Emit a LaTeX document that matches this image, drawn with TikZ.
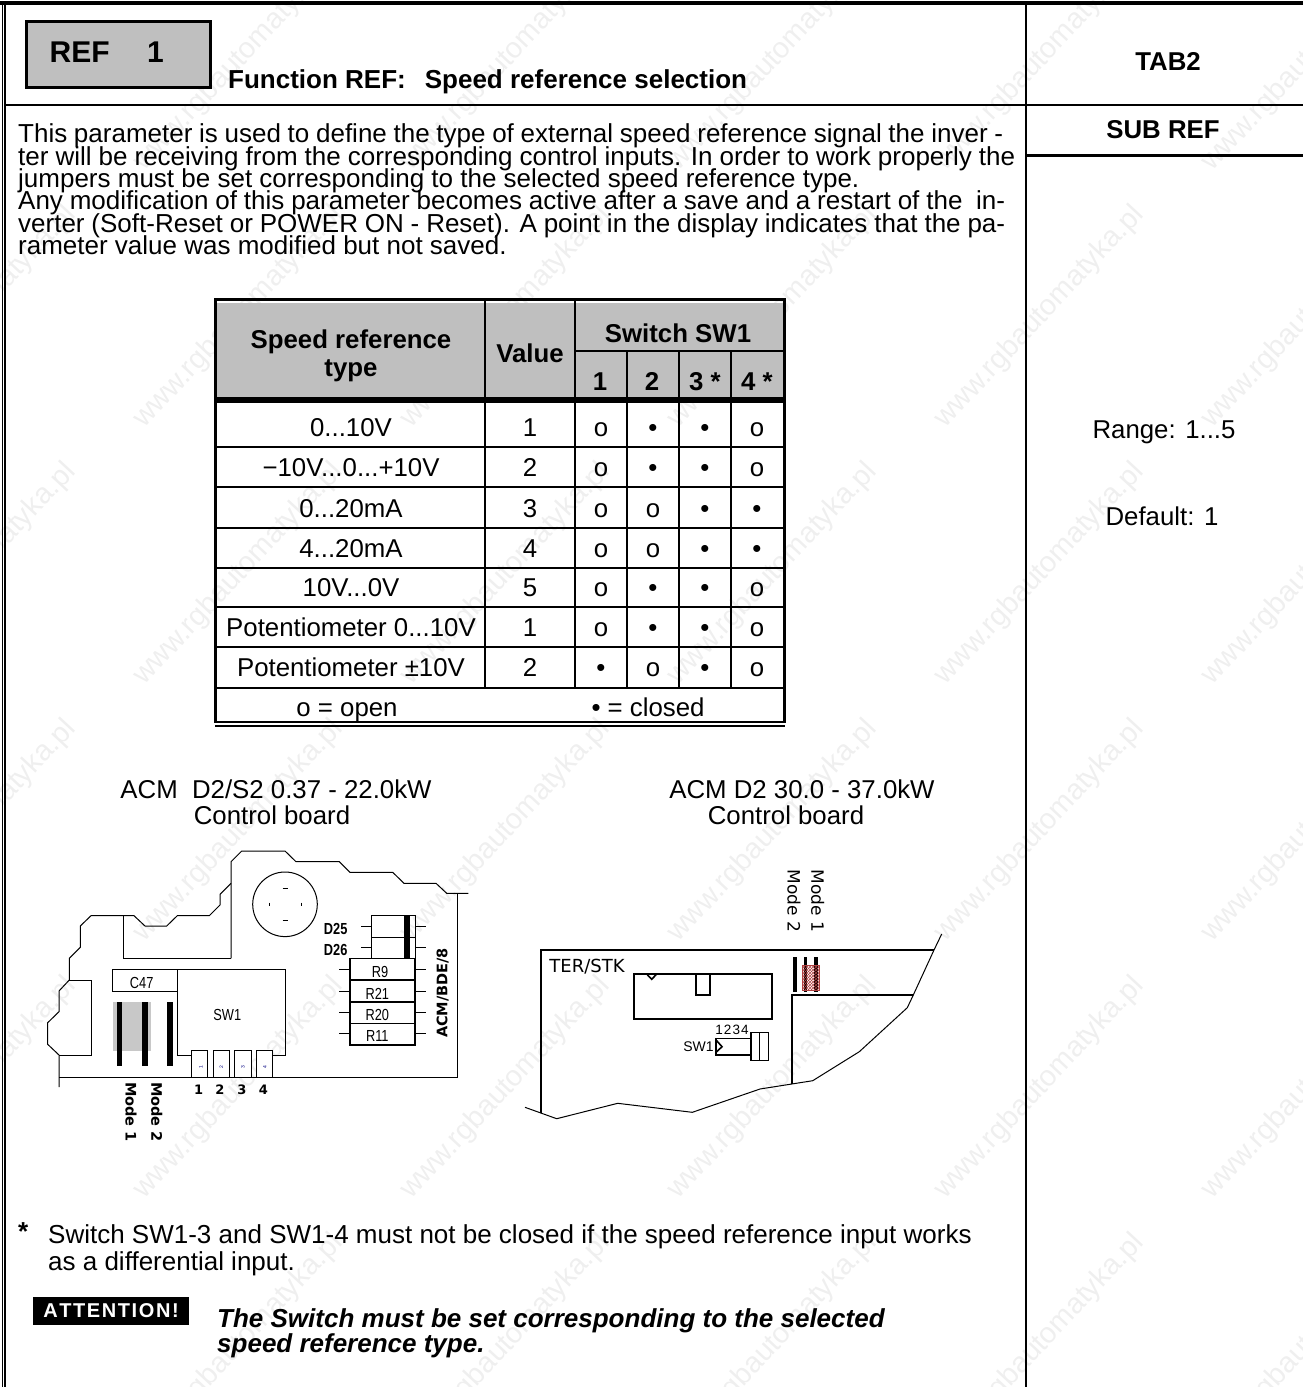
\documentclass[tikz,border=0pt]{standalone}
\usepackage{fontspec}
\usetikzlibrary{patterns}
\setmainfont{Liberation Sans}
\newfontfamily\dejafont{DejaVu Sans}

\definecolor{panelgray}{HTML}{BFBFBF}
\definecolor{jumpergray}{HTML}{C8C8C8}
\definecolor{wmarkgray}{HTML}{EFEFEF}
\definecolor{hatchred}{HTML}{B04040}

\tikzset{
    bodytext/.style={inner sep=0pt, anchor=base west, font=\fontsize{26}{26}\selectfont},
    midtext/.style={inner sep=0pt, anchor=base, font=\fontsize{25.8}{25.8}\selectfont},
    headtext/.style={inner sep=0pt, anchor=base, font=\fontsize{25.8}{25.8}\selectfont\bfseries},
    notetext/.style={bodytext, font=\fontsize{26}{26}\selectfont\bfseries\itshape},
    wmark/.style={inner sep=0pt, anchor=west, rotate=47, text=wmarkgray, font=\fontsize{29}{29}\selectfont},
    boardtext/.style={inner sep=0pt, transform shape, xscale=0.8, font=\fontsize{16}{16}\selectfont},
    slottext/.style={inner sep=0pt, rotate=90, font=\fontsize{5}{5}\selectfont, text=blue!50!black},
    numtext/.style={inner sep=0pt, font=\fontsize{13}{13}\selectfont\dejafont\bfseries},
    modetext/.style={inner sep=0pt, rotate=-90, font=\fontsize{14.5}{14.5}\selectfont\dejafont\bfseries},
    modetextb/.style={inner sep=0pt, rotate=-90, font=\fontsize{17}{17}\selectfont\dejafont},
    thinline/.style={line width=1pt},
    midline/.style={line width=1.6pt},
    frameline/.style={line width=2.6pt}
}

\begin{document}
\begin{tikzpicture}[x=1pt, y=-1pt]

    \useasboundingbox (0, 0) rectangle (1303, 1387);

    % watermark
    \node[wmark] (mark01) at (139, 167) {www.rgbautomatyka.pl};
    \node[wmark] (mark02) at (406, 167) {www.rgbautomatyka.pl};
    \node[wmark] (mark03) at (673, 167) {www.rgbautomatyka.pl};
    \node[wmark] (mark04) at (940, 167) {www.rgbautomatyka.pl};
    \node[wmark] (mark05) at (1207, 167) {www.rgbautomatyka.pl};
    \node[wmark] (mark06) at (-128, 424) {www.rgbautomatyka.pl};
    \node[wmark] (mark07) at (139, 424) {www.rgbautomatyka.pl};
    \node[wmark] (mark08) at (406, 424) {www.rgbautomatyka.pl};
    \node[wmark] (mark09) at (673, 424) {www.rgbautomatyka.pl};
    \node[wmark] (mark10) at (940, 424) {www.rgbautomatyka.pl};
    \node[wmark] (mark11) at (1207, 424) {www.rgbautomatyka.pl};
    \node[wmark] (mark12) at (-128, 681) {www.rgbautomatyka.pl};
    \node[wmark] (mark13) at (139, 681) {www.rgbautomatyka.pl};
    \node[wmark] (mark14) at (406, 681) {www.rgbautomatyka.pl};
    \node[wmark] (mark15) at (673, 681) {www.rgbautomatyka.pl};
    \node[wmark] (mark16) at (940, 681) {www.rgbautomatyka.pl};
    \node[wmark] (mark17) at (1207, 681) {www.rgbautomatyka.pl};
    \node[wmark] (mark18) at (-128, 938) {www.rgbautomatyka.pl};
    \node[wmark] (mark19) at (139, 938) {www.rgbautomatyka.pl};
    \node[wmark] (mark20) at (406, 938) {www.rgbautomatyka.pl};
    \node[wmark] (mark21) at (673, 938) {www.rgbautomatyka.pl};
    \node[wmark] (mark22) at (940, 938) {www.rgbautomatyka.pl};
    \node[wmark] (mark23) at (1207, 938) {www.rgbautomatyka.pl};
    \node[wmark] (mark24) at (-128, 1195) {www.rgbautomatyka.pl};
    \node[wmark] (mark25) at (139, 1195) {www.rgbautomatyka.pl};
    \node[wmark] (mark26) at (406, 1195) {www.rgbautomatyka.pl};
    \node[wmark] (mark27) at (673, 1195) {www.rgbautomatyka.pl};
    \node[wmark] (mark28) at (940, 1195) {www.rgbautomatyka.pl};
    \node[wmark] (mark29) at (1207, 1195) {www.rgbautomatyka.pl};
    \node[wmark] (mark30) at (139, 1452) {www.rgbautomatyka.pl};
    \node[wmark] (mark31) at (406, 1452) {www.rgbautomatyka.pl};
    \node[wmark] (mark32) at (673, 1452) {www.rgbautomatyka.pl};
    \node[wmark] (mark33) at (940, 1452) {www.rgbautomatyka.pl};
    \node[wmark] (mark34) at (1207, 1452) {www.rgbautomatyka.pl};

    % page frame
    \draw[line width=3.5pt] (0, 2.8) -- (1303, 2.8);
    \draw[line width=1pt] (2.2, 1) -- (2.2, 1387);
    \draw[line width=2pt] (5.3, 1) -- (5.3, 1387);
    \draw[frameline] (5, 105) -- (1303, 105);
    \draw[frameline] (1026, 2) -- (1026, 1387);
    \draw[frameline] (1026, 155.5) -- (1303, 155.5);

    % title row
    \draw[line width=3pt, fill=panelgray] (26, 21.5) rectangle (210.5, 87);
    \node[inner sep=0pt, anchor=base west, font=\fontsize{30}{30}\selectfont\bfseries] (title) at (49.5, 62) {REF};
    \node[inner sep=0pt, anchor=base west, font=\fontsize{30}{30}\selectfont\bfseries] (titleno) at (147, 62) {1};
    \node[bodytext, font=\fontsize{26}{26}\selectfont\bfseries] (function) at (228, 88) {Function REF:\hspace{19pt}Speed reference selection};
    \node[headtext] (tab) at (1168, 70) {TAB2};
    \node[headtext] (sub) at (1163, 138) {SUB REF};
    \node[midtext] (range) at (1164, 438) {Range: 1...5};
    \node[midtext] (default) at (1162, 525) {Default: 1};

    % description
    \node[bodytext] (line1) at (18, 142) {\makebox[985pt][s]{This parameter is used to define the type of external speed reference signal the inver -}};
    \node[bodytext] (line2) at (18, 165) {\makebox[997pt][s]{ter will be receiving from the corresponding control inputs. In order to work properly the}};
    \node[bodytext] (line3) at (18, 187) {jumpers must be set corresponding to the selected speed reference type.};
    \node[bodytext] (line4) at (18, 209) {\makebox[987pt][s]{Any modification of this parameter becomes active after a save and a restart of the\ \ in-}};
    \node[bodytext] (line5) at (18, 232) {\makebox[987pt][s]{verter (Soft-Reset or POWER ON - Reset). A point in the display indicates that the pa-}};
    \node[bodytext] (line6) at (18, 254) {rameter value was modified but not saved.};

    % table
    \fill[panelgray] (217, 303) rectangle (783, 397);
    \draw[frameline] (215.5, 299.5) rectangle (784.5, 722);
    \draw[line width=1.5pt] (215, 726) -- (785, 726);
    \draw[line width=6pt] (217, 400) -- (783, 400);
    \draw[midline] (485, 300) -- (485, 688);
    \draw[midline] (575, 300) -- (575, 688);
    \draw[midline] (575, 351) -- (784, 351);
    \draw[midline] (627, 351) -- (627, 688);
    \draw[midline] (679, 351) -- (679, 688);
    \draw[midline] (731, 351) -- (731, 688);
    \draw[midline] (216, 447) -- (784, 447);
    \draw[midline] (216, 487) -- (784, 487);
    \draw[midline] (216, 528) -- (784, 528);
    \draw[midline] (216, 568) -- (784, 568);
    \draw[midline] (216, 607) -- (784, 607);
    \draw[midline] (216, 647) -- (784, 647);
    \draw[midline] (216, 688) -- (784, 688);

    \node[headtext] (typeA) at (351, 348) {Speed reference};
    \node[headtext] (typeB) at (351, 376) {type};
    \node[headtext] (value) at (530, 362) {Value};
    \node[headtext] (switch) at (678, 342) {Switch SW1};
    \node[headtext] (sw1) at (600, 390) {1};
    \node[headtext] (sw2) at (652, 390) {2};
    \node[headtext] (sw3) at (705, 390) {3 *};
    \node[headtext] (sw4) at (757, 390) {4 *};

    \node[midtext] (type1) at (351, 436) {0...10V};
    \node[midtext] (type2) at (351, 476) {−10V...0...+10V};
    \node[midtext] (type3) at (351, 517) {0...20mA};
    \node[midtext] (type4) at (351, 557) {4...20mA};
    \node[midtext] (type5) at (351, 596) {10V...0V};
    \node[midtext] (type6) at (351, 636) {Potentiometer 0...10V};
    \node[midtext] (type7) at (351, 676) {Potentiometer ±10V};

    \node[midtext] (value1) at (530, 436) {1};
    \node[midtext] (value2) at (530, 476) {2};
    \node[midtext] (value3) at (530, 517) {3};
    \node[midtext] (value4) at (530, 557) {4};
    \node[midtext] (value5) at (530, 596) {5};
    \node[midtext] (value6) at (530, 636) {1};
    \node[midtext] (value7) at (530, 676) {2};

    \node[midtext] (a1) at (601, 436) {o};
    \node[midtext] (b1) at (653, 436) {•};
    \node[midtext] (c1) at (705, 436) {•};
    \node[midtext] (d1) at (757, 436) {o};
    \node[midtext] (a2) at (601, 476) {o};
    \node[midtext] (b2) at (653, 476) {•};
    \node[midtext] (c2) at (705, 476) {•};
    \node[midtext] (d2) at (757, 476) {o};
    \node[midtext] (a3) at (601, 517) {o};
    \node[midtext] (b3) at (653, 517) {o};
    \node[midtext] (c3) at (705, 517) {•};
    \node[midtext] (d3) at (757, 517) {•};
    \node[midtext] (a4) at (601, 557) {o};
    \node[midtext] (b4) at (653, 557) {o};
    \node[midtext] (c4) at (705, 557) {•};
    \node[midtext] (d4) at (757, 557) {•};
    \node[midtext] (a5) at (601, 596) {o};
    \node[midtext] (b5) at (653, 596) {•};
    \node[midtext] (c5) at (705, 596) {•};
    \node[midtext] (d5) at (757, 596) {o};
    \node[midtext] (a6) at (601, 636) {o};
    \node[midtext] (b6) at (653, 636) {•};
    \node[midtext] (c6) at (705, 636) {•};
    \node[midtext] (d6) at (757, 636) {o};
    \node[midtext] (a7) at (601, 676) {•};
    \node[midtext] (b7) at (653, 676) {o};
    \node[midtext] (c7) at (705, 676) {•};
    \node[midtext] (d7) at (757, 676) {o};

    \node[midtext] (open) at (347, 716) {o = open};
    \node[midtext] (closed) at (648, 716) {• = closed};

    % board captions
    \node[midtext] (leftcap) at (276, 798) {ACM\ \ D2/S2 0.37 - 22.0kW};
    \node[midtext] (leftcapb) at (272, 824) {Control board};
    \node[midtext] (rightcap) at (802, 798) {ACM D2 30.0 - 37.0kW};
    \node[midtext] (rightcapb) at (786, 824) {Control board};

    % left board
    \draw[thinline] (59, 1087) -- (59, 1055) -- (47.7, 1044.3) -- (47.7, 1022.7) -- (59, 1011.7) -- (59, 991) -- (69.3, 980) -- (69.3, 958.3) -- (80.3, 947.3) -- (80.3, 926) -- (91, 915.7) -- (134, 915.7) -- (145, 926) -- (166.7, 926) -- (177.3, 915.7) -- (209.3, 915.7) -- (220, 905) -- (220, 894.3) -- (231, 883.3);
    \draw[thinline] (231, 958.3) -- (231, 861.7) -- (241.7, 851) -- (285, 851) -- (296, 861.7) -- (339.3, 861.7) -- (350, 872.3) -- (392.7, 872.3) -- (404, 883.3) -- (436, 883.3) -- (446.7, 893.3) -- (468.3, 893.3);
    \draw[thinline] (123.3, 915.7) -- (123.3, 958.3) -- (231, 958.3);
    \draw[thinline] (69.3, 980) -- (91, 980) -- (91, 1055.7) -- (59, 1055.7);
    \draw[thinline] (59, 1077) -- (457.7, 1077) -- (457.7, 893.3);
    \draw[thinline] (285, 904.3) circle (32.3);
    \draw[thinline] (282.7, 888.3) -- (288, 888.3);
    \draw[thinline] (282.7, 920.3) -- (288, 920.3);
    \draw[thinline] (269, 902.7) -- (269, 906);
    \draw[thinline] (301.7, 902.7) -- (301.7, 906);

    \fill[jumpergray] (113.3, 1002) rectangle (150.7, 1050.7);
    \fill[black] (116.7, 1002) rectangle (122.3, 1066);
    \fill[black] (142.3, 1002) rectangle (148.3, 1066);
    \fill[black] (167, 1002) rectangle (173, 1066);

    \draw[thinline] (112.7, 969.3) rectangle (177.3, 991);
    \draw[thinline] (191.7, 1055.7) -- (177.3, 1055.7) -- (177.3, 969.3) -- (285.7, 969.3) -- (285.7, 1055.7) -- (273, 1055.7);
    \draw[thinline, fill=white] (191.7, 1050) rectangle (207.3, 1077);
    \draw[thinline, fill=white] (213, 1050) rectangle (229.3, 1077);
    \draw[thinline, fill=white] (234.3, 1050) rectangle (251, 1077);
    \draw[thinline, fill=white] (256.3, 1050) rectangle (272.7, 1077);

    \node[slottext] (slot1) at (201, 1067) {1};
    \node[slottext] (slot2) at (221.5, 1067) {2};
    \node[slottext] (slot3) at (243, 1067) {3};
    \node[slottext] (slot4) at (265, 1067) {4};

    \node[boardtext] (c47) at (141.7, 982.5) {C47};
    \node[boardtext] (swlabel) at (227.3, 1015) {SW1};
    \node[numtext] (num1) at (198.7, 1090) {1};
    \node[numtext] (num2) at (220, 1090) {2};
    \node[numtext] (num3) at (242, 1090) {3};
    \node[numtext] (num4) at (263.3, 1090) {4};
    \node[modetext] (mode1) at (131, 1112) {Mode 1};
    \node[modetext] (mode2) at (156.7, 1112) {Mode 2};

    \draw[thinline] (361, 926) -- (371.7, 926);
    \draw[thinline] (361, 947.3) -- (371.7, 947.3);
    \draw[thinline] (415, 926) -- (425.7, 926);
    \draw[thinline] (415, 947.3) -- (425.7, 947.3);
    \draw[thinline] (371.7, 915.7) rectangle (415, 958.3);
    \draw[thinline] (371.7, 937) -- (415, 937);
    \fill[black] (404, 915.7) rectangle (410, 958.3);
    \draw[midline] (350, 958.3) rectangle (415, 1045);
    \draw[midline] (350, 980) -- (415, 980);
    \draw[midline] (350, 1001.7) -- (415, 1001.7);
    \draw[midline] (350, 1023.3) -- (415, 1023.3);
    \draw[thinline] (339.3, 969.3) -- (350, 969.3);
    \draw[thinline] (339.3, 991) -- (350, 991);
    \draw[thinline] (339.3, 1012.3) -- (350, 1012.3);
    \draw[thinline] (339.3, 1033.7) -- (350, 1033.7);
    \draw[thinline] (415, 969.3) -- (425.7, 969.3);
    \draw[thinline] (415, 991) -- (425.7, 991);
    \draw[thinline] (415, 1012.3) -- (425.7, 1012.3);
    \draw[thinline] (415, 1033.7) -- (425.7, 1033.7);

    \node[boardtext, font=\fontsize{16}{16}\selectfont\bfseries] (d25) at (335.7, 928.5) {D25};
    \node[boardtext, font=\fontsize{16}{16}\selectfont\bfseries] (d26) at (335.7, 950) {D26};
    \node[boardtext] (r9) at (380, 971.5) {R9};
    \node[boardtext] (r21) at (377.3, 993.5) {R21};
    \node[boardtext] (r20) at (377.3, 1015) {R20};
    \node[boardtext] (r11) at (377.3, 1036) {R11};
    \node[inner sep=0pt, rotate=90, font=\fontsize{14.5}{14.5}\selectfont\dejafont\bfseries] (acm) at (442.7, 993) {ACM/BDE/8};

    % right board
    \draw[thinline] (525, 1107.3) -- (556.7, 1118.7) -- (617.7, 1103.3) -- (692.3, 1112.3) -- (760, 1089) -- (812.7, 1080.7) -- (859.3, 1051.7) -- (907.3, 1007.7) -- (913.3, 995) -- (934, 950) -- (941.7, 934);
    \draw[frameline] (541, 1113.3) -- (541, 950) -- (934, 950);
    \draw[midline] (791.7, 1084) -- (791.7, 995) -- (913.3, 995);
    \draw[midline] (634, 974) rectangle (771.7, 1019);
    \draw[midline] (646.7, 974) -- (651.7, 979.3) -- (656.7, 974);
    \draw[midline] (695.7, 974) rectangle (710, 995);
    \draw[midline] (716, 1038.3) rectangle (750.7, 1055);
    \draw[midline] (716.7, 1040.7) -- (722, 1046.7) -- (716.7, 1051.7);
    \draw[midline] (750.7, 1032.3) rectangle (768.3, 1060.3);
    \draw[midline] (759.3, 1032.3) -- (759.3, 1060.3);

    \fill[black] (793.3, 956.7) rectangle (796.7, 992.3);
    \fill[black] (803.7, 956.7) rectangle (807, 992.3);
    \fill[black] (814.3, 956.7) rectangle (817.7, 992.3);
    \draw[thinline, color=hatchred, pattern=crosshatch, pattern color=hatchred] (802.3, 965.7) rectangle (819.3, 990.7);

    \node[inner sep=0pt, font=\fontsize{18}{18}\selectfont\dejafont] (ter) at (587, 966.7) {TER/STK};
    \node[inner sep=0pt, font=\fontsize{14}{14}\selectfont] (swr) at (698.5, 1046.7) {SW1};
    \node[inner sep=0pt, font=\fontsize{13.5}{13.5}\selectfont] (num) at (732, 1030) {1\hspace{1pt}2\hspace{1pt}3\hspace{1pt}4};
    \node[modetextb] (moder1) at (817.7, 901) {Mode 1};
    \node[modetextb] (moder2) at (794, 901) {Mode 2};

    % notes
    \node[bodytext, font=\fontsize{26}{26}\selectfont\bfseries] (star) at (18, 1240) {*};
    \node[bodytext] (note1) at (48, 1243) {Switch SW1-3 and SW1-4 must not be closed if the speed reference input works};
    \node[bodytext] (note2) at (48, 1270) {as a differential input.};
    \node[inner sep=0pt, fill=black, text=white, minimum width=156pt, minimum height=28pt, font=\fontsize{20}{20}\selectfont\bfseries] (attention) at (111, 1311) {A\hspace{1.6pt}T\hspace{1.6pt}T\hspace{1.6pt}E\hspace{1.6pt}N\hspace{1.6pt}T\hspace{1.6pt}I\hspace{1.6pt}O\hspace{1.6pt}N\hspace{1.6pt}!};
    \node[notetext] (warn1) at (217, 1327) {The Switch must be set corresponding to the selected};
    \node[notetext] (warn2) at (217, 1352) {speed reference type.};

\end{tikzpicture}
\end{document}
